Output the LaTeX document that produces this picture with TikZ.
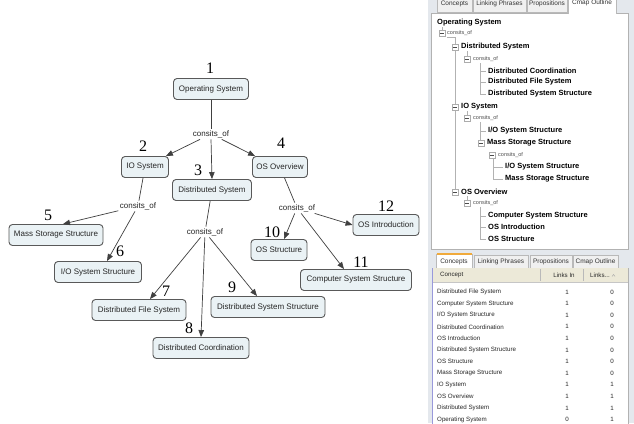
\documentclass[tikz,border=0pt]{standalone}
\usepackage{fontspec}
\setmainfont{Liberation Serif}
\setsansfont{Liberation Sans}
\usetikzlibrary{arrows.meta}
\definecolor{cfill}{RGB}{234,242,245}
\definecolor{panelgray}{RGB}{228,232,237}
\definecolor{tabfill}{RGB}{240,240,240}
\definecolor{headbeige}{RGB}{236,233,216}
\definecolor{taborange}{RGB}{240,170,60}
\begin{document}
\begin{tikzpicture}[x=1pt,y=-1pt,
  concept/.style={draw=black!65, fill=cfill, rounded corners=3.5pt, line width=0.9pt,
    minimum height=21pt, inner xsep=3pt, font=\sffamily\fontsize{8}{9}\selectfont, text=black!85},
  linkph/.style={font=\sffamily\fontsize{8}{9}\selectfont, inner sep=1.5pt, text=black!85},
  num/.style={font=\rmfamily\fontsize{16}{16}\selectfont, inner sep=0pt},
  conn/.style={draw=black!75, line width=0.7pt},
  arr/.style={conn, -{Triangle[length=7pt,width=5.5pt]}},
  tabbox/.style={draw=gray!55, fill=tabfill, line width=0.5pt},
  tabtext/.style={font=\sffamily\fontsize{6.5}{7}\selectfont, inner sep=0pt, text=black!80},
  obold/.style={anchor=west, inner sep=0pt, font=\sffamily\bfseries\fontsize{7.5}{8}\selectfont},
  olink/.style={anchor=west, inner sep=0pt, font=\sffamily\fontsize{5.5}{6}\selectfont, text=black!70},
  treeline/.style={draw=gray!60, line width=0.5pt},
  rowtext/.style={font=\sffamily\fontsize{6.2}{7}\selectfont, inner sep=0pt, text=black!85},
  expander/.pic={\draw[gray!65,fill=white,line width=0.4pt] (-2.8,-2.8) rectangle (2.8,2.8);
                 \draw[black!70,line width=0.5pt] (-1.6,0) -- (1.6,0);},
]
\useasboundingbox (0,0) rectangle (634,423);
\fill[white] (0,0) rectangle (634,423);

% ---------------- concept map ----------------
\node[concept, minimum width=75pt] (os)   at (211,89)  {Operating System};
\node[concept, minimum width=47pt] (io)   at (145,167) {IO System};
\node[concept, minimum width=79pt] (ds)   at (212,190) {Distributed System};
\node[concept, minimum width=55pt] (oso)  at (280,167) {OS Overview};
\node[concept, minimum width=94pt] (mss)  at (56,235)  {Mass Storage Structure};
\node[concept, minimum width=87pt] (ioss) at (98,272)  {I/O System Structure};
\node[concept, minimum width=94pt] (dfs)  at (139,310) {Distributed File System};
\node[concept, minimum width=96pt] (dc)   at (201,348) {Distributed Coordination};
\node[concept, minimum width=114pt] (dss) at (268,307) {Distributed System Structure};
\node[concept, minimum width=56pt] (oss)  at (279,250) {OS Structure};
\node[concept, minimum width=111pt] (css) at (356,280) {Computer System Structure};
\node[concept, minimum width=66pt] (osi)  at (386,225) {OS Introduction};

\node[linkph] (l1) at (211,134) {consits\_of};
\node[linkph] (l2) at (138,206) {consits\_of};
\node[linkph] (l3) at (205,232) {consits\_of};
\node[linkph] (l4) at (297,208) {consits\_of};

\node[num] (n1)  at (210,68)  {1};
\node[num] (n2)  at (143,146) {2};
\node[num] (n3)  at (198,170) {3};
\node[num] (n4)  at (281,143) {4};
\node[num] (n5)  at (48,215)  {5};
\node[num] (n6)  at (120,251) {6};
\node[num] (n7)  at (166,291) {7};
\node[num] (n8)  at (189,328) {8};
\node[num] (n9)  at (232,287) {9};
\node[num] (n10) at (272,232) {10};
\node[num] (n11) at (361,262) {11};
\node[num] (n12) at (386,206) {12};

\draw[conn] (os) -- (l1);
\draw[arr] (l1) -- ([xshift=-3pt]io.north east);
\draw[arr] (l1.south) -- (ds.north);
\draw[arr] (l1) -- ([xshift=3pt]oso.north west);

\draw[conn] (io) -- (l2);
\draw[arr] (l2) -- ([xshift=7pt]mss.north);
\draw[arr] (l2) -- ([xshift=9pt]ioss.north);

\draw[conn] (ds) -- (l3);
\draw[arr] (l3) -- ([xshift=11pt]dfs.north);
\draw[arr] (l3) -- (dc.north);
\draw[arr] (l3) -- ([xshift=-11pt]dss.north);

\draw[conn] (oso) -- (l4);
\draw[arr] (l4) -- ([xshift=5pt]oss.north);
\draw[arr] (l4) -- ([xshift=-12pt]css.north);
\draw[arr] (l4) -- (osi.west);

% ---------------- right panel ----------------
\fill[panelgray] (428,0) rectangle (634,423);

% top tabs (Cmap Outline selected)
\draw[tabbox] (437,-3) rectangle (472,12);
\draw[tabbox] (473,-3) rectangle (526,12);
\draw[tabbox] (527,-3) rectangle (567,12);
\node[tabtext] (tt1) at (454.5,4) {Concepts};
\node[tabtext] (tt2) at (499.5,4) {Linking Phrases};
\node[tabtext] (tt3) at (547,4) {Propositions};
\draw[gray!60, fill=white, line width=0.5pt] (431,13) rectangle (628,249);
\draw[gray!55, fill=white, line width=0.5pt] (568,14) -- (568,-3) -- (616,-3) -- (616,14);
\node[tabtext] (tt4) at (592,3) {Cmap Outline};

% outline tree lines
\draw[treeline] (442,27) -- (442,30);
\draw[treeline] (455,37) -- (455,189);
\draw[treeline] (455,37) -- (447,37);
\draw[treeline] (467,51) -- (467,56);
\draw[treeline] (480,63) -- (480,94);
\foreach \yy in {71,82,94} \draw[treeline] (480,\yy) -- (486,\yy);
\draw[treeline] (467,111) -- (467,115);
\draw[treeline] (480,122) -- (480,140);
\draw[treeline] (480,131) -- (486,131);
\draw[treeline] (493,158) -- (493,179);
\foreach \yy in {167,179} \draw[treeline] (493,\yy) -- (503,\yy);
\draw[treeline] (467,196) -- (467,200);
\draw[treeline] (480,207) -- (480,239);
\foreach \yy in {216,227,239} \draw[treeline] (480,\yy) -- (486,\yy);

\pic at (442,33) {expander};
\pic at (455,47) {expander};
\pic at (467,59) {expander};
\pic at (455,107) {expander};
\pic at (467,118) {expander};
\pic at (481,143) {expander};
\pic at (492,155) {expander};
\pic at (455,192) {expander};
\pic at (467,203) {expander};

\node[obold] (o1)  at (437,23)  {Operating System};
\node[olink] (o2)  at (447,33)  {consits\_of};
\node[obold] (o3)  at (461,47)  {Distributed System};
\node[olink] (o4)  at (473,59)  {consits\_of};
\node[obold] (o5)  at (488,71)  {Distributed Coordination};
\node[obold] (o6)  at (488,82)  {Distributed File System};
\node[obold] (o7)  at (488,94)  {Distributed System Structure};
\node[obold] (o8)  at (461,107) {IO System};
\node[olink] (o9)  at (473,118) {consits\_of};
\node[obold] (o10) at (488,131) {I/O System Structure};
\node[obold] (o11) at (487,143) {Mass Storage Structure};
\node[olink] (o12) at (498,155) {consits\_of};
\node[obold] (o13) at (505,167) {I/O System Structure};
\node[obold] (o14) at (505,179) {Mass Storage Structure};
\node[obold] (o15) at (461,192) {OS Overview};
\node[olink] (o16) at (473,203) {consits\_of};
\node[obold] (o17) at (488,216) {Computer System Structure};
\node[obold] (o18) at (488,227) {OS Introduction};
\node[obold] (o19) at (488,239) {OS Structure};

% bottom tabs (Concepts selected)
\draw[tabbox] (474,255) rectangle (528,268);
\draw[tabbox] (530,255) rectangle (572,268);
\draw[tabbox] (573,255) rectangle (618,268);
\draw[gray!55, fill=white, line width=0.5pt] (436,268) -- (436,254) -- (472,254) -- (472,268);
\draw[taborange, line width=1.2pt] (436.5,254) -- (471.5,254);
\node[tabtext] (bt1) at (454,261.5) {Concepts};
\node[tabtext] (bt2) at (501,261.5) {Linking Phrases};
\node[tabtext] (bt3) at (551,261.5) {Propositions};
\node[tabtext] (bt4) at (595.5,261.5) {Cmap Outline};

% table
\draw[gray!60, fill=white, line width=0.5pt] (432,268) rectangle (628,426);
\fill[headbeige] (432.3,268.3) rectangle (627.7,282);
\draw[gray!45, line width=0.5pt] (432.3,282) -- (627.7,282);
\draw[gray!55, line width=0.5pt] (540,269) -- (540,281);
\draw[gray!55, line width=0.5pt] (583,269) -- (583,281);
\draw[black!35!blue!40, line width=0.8pt] (432,268) -- (432,426);
\node[rowtext, anchor=west] (h1) at (440,275) {Concept};
\node[rowtext] (h2) at (564,275) {Links In};
\node[rowtext] (h3) at (600,275) {Links...};
\draw[gray!70, line width=0.4pt] (612,276.5) -- (613.5,274.5) -- (615,276.5);

\foreach \name/\lin/\lout [count=\i from 0] in {
  Distributed File System/1/0,
  Computer System Structure/1/0,
  {I/O System Structure}/1/0,
  Distributed Coordination/1/0,
  OS Introduction/1/0,
  Distributed System Structure/1/0,
  OS Structure/1/0,
  Mass Storage Structure/1/0,
  IO System/1/1,
  OS Overview/1/1,
  Distributed System/1/1,
  Operating System/0/1} {
  \node[rowtext, anchor=west] (ra\i) at (437,292+11.6*\i) {\name};
  \node[rowtext] (rb\i) at (567,292+11.6*\i) {\lin};
  \node[rowtext] (rc\i) at (612,292+11.6*\i) {\lout};
}
\end{tikzpicture}
\end{document}
